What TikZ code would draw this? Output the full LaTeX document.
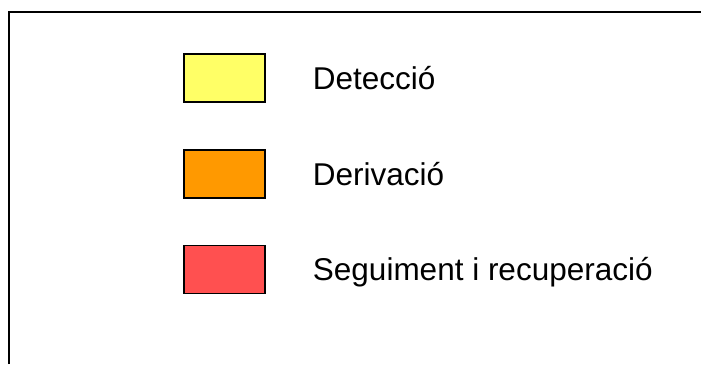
\documentclass[tikz,border=0pt]{standalone}
\usepackage{fontspec}
\setmainfont{Liberation Sans}
\usetikzlibrary{positioning}

\definecolor{detyellow}{HTML}{FFFF66}
\definecolor{derorange}{HTML}{FF9900}
\definecolor{segred}{HTML}{FF5050}

\tikzset{
  swatch/.style={draw, line width=1.5pt, minimum width=81pt, minimum height=48pt, inner sep=0pt},
  legtext/.style={font=\fontsize{31.5}{37}\selectfont, inner sep=0pt, anchor=base west}
}

\begin{document}
\begin{tikzpicture}[x=1pt,y=-1pt]
  \useasboundingbox (0,0) rectangle (701,364);
  \draw[line width=2pt] (9,364) -- (9,12) -- (701,12);

  \foreach \name/\col/\yc/\txt in {det/detyellow/78/Detecció,
                                   der/derorange/174/Derivació,
                                   seg/segred/269.5/Seguiment i recuperació} {
    \node[swatch, fill=\col] (\name) at (224.5,\yc) {};
    \node[legtext] (\name-text) at ([xshift=47pt,yshift=-11.3pt]\name.east) {\txt};
  }
\end{tikzpicture}
\end{document}
